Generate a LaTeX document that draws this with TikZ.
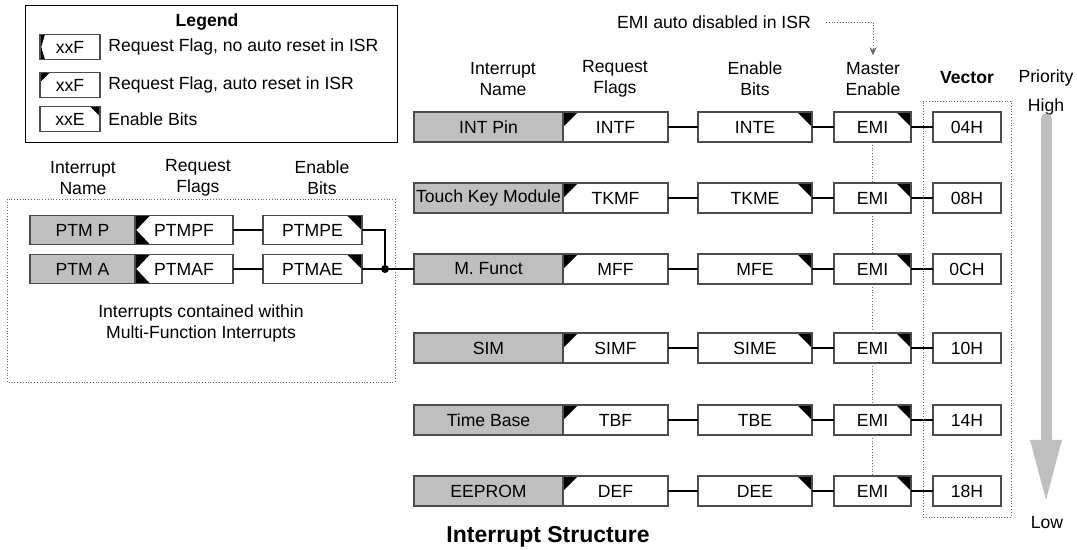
\documentclass[tikz,border=0pt]{standalone}
\usepackage{fontspec}
\setmainfont{Liberation Sans}
\usetikzlibrary{arrows.meta,positioning,fit}
\colorlet{EdgeGray}{black!70}
\colorlet{NameGray}{black!25}
\colorlet{DotGray}{black!60}
\def\csz{7.5pt}

\begin{document}
\begin{tikzpicture}[x=0.5pt,y=-0.5pt,
      every node/.style={font=\fontsize{8.8}{10.5}\selectfont},
      cornersz/.code={\def\csz{#1}},
      basebox/.style={draw=EdgeGray,line width=0.6pt,minimum height=15pt,
        inner xsep=0pt,outer sep=0pt},
      namebox/.style={basebox,fill=NameGray,minimum width=74.5pt},
      flagbox/.style={basebox,fill=white,minimum width=52.5pt,
        path picture={\fill[black] (path picture bounding box.north west) -- ++(\csz,0pt)
          -- ++(-\csz,-\csz) -- cycle;}},
      noautobox/.style={basebox,fill=white,minimum width=52.5pt,
        path picture={\fill[black] (path picture bounding box.north west) -- ++(\csz,0pt)
          -- ([xshift=0.6pt]path picture bounding box.west)
          -- ([xshift=\csz]path picture bounding box.south west)
          -- (path picture bounding box.south west) -- cycle;}},
      enbox/.style={basebox,fill=white,minimum width=57pt,
        path picture={\fill[black] (path picture bounding box.north east) -- ++(-\csz,0pt)
          -- ++(\csz,-\csz) -- cycle;}},
      emibox/.style={enbox,minimum width=38.5pt},
      vecbox/.style={basebox,fill=white,minimum width=34pt},
      head/.style={align=center},
      wire/.style={draw=black,line width=0.6pt},
      dot/.style={circle,fill=black,inner sep=0pt,minimum size=4pt}]
    \useasboundingbox (0,0) rectangle (1077,550);

    % Legend
    \draw[line width=0.5pt] (25,6) rectangle (397,143);
    \node[font=\bfseries\fontsize{8.8}{10.5}\selectfont] (lgtitle) at (207,22) {Legend};
    \node[noautobox,cornersz=2.5pt,minimum width=30pt,minimum height=11pt] (lgnoauto) at (70,47) {xxF};
    \node[flagbox,cornersz=5pt,minimum width=30pt,minimum height=11pt] (lgauto) at (70,85) {xxF};
    \node[enbox,cornersz=5pt,minimum width=30pt,minimum height=11pt] (lgen) at (70,119) {xxE};
    \node[right=4pt of lgnoauto,inner xsep=0pt] (lgnoautotxt) {Request Flag, no auto reset in ISR};
    \node[right=4pt of lgauto,inner xsep=0pt] (lgautotxt) {Request Flag, auto reset in ISR};
    \node[right=4pt of lgen,inner xsep=0pt] (lgentxt) {Enable Bits};

    % Multi-function sources
    \node[head] (lname) at (83,178) {Interrupt\\Name};
    \node[head] (lflag) at (198,178) {Request\\Flags};
    \node[head] (len) at (322,178) {Enable\\Bits};
    \draw[densely dotted,draw=DotGray] (7,199) rectangle (395,382);
    \node[namebox,minimum width=52.5pt,minimum height=14.5pt] (ptmp) at (82.5,230) {PTM P};
    \node[noautobox,minimum width=49pt,minimum height=14.5pt,right=0pt of ptmp] (ptmpf) {PTMPF};
    \node[enbox,minimum width=49.5pt,minimum height=14.5pt,right=15pt of ptmpf] (ptmpe) {PTMPE};
    \node[namebox,minimum width=52.5pt,minimum height=14.5pt] (ptma) at (82.5,269) {PTM A};
    \node[noautobox,minimum width=49pt,minimum height=14.5pt,right=0pt of ptma] (ptmaf) {PTMAF};
    \node[enbox,minimum width=49.5pt,minimum height=14.5pt,right=15pt of ptmaf] (ptmae) {PTMAE};
    \node[dot] (junc) at ([xshift=11.5pt]ptmae.east) {};
    \node[head] (mfnote) at (201,323) {Interrupts contained within\\Multi-Function Interrupts};
    \draw[wire] (ptmpf) -- (ptmpe);
    \draw[wire] (ptmaf) -- (ptmae);

    % Column headings
    \node (emitext) at (714,22) {EMI auto disabled in ISR};
    \node[head] (hname) at (503,79) {Interrupt\\Name};
    \node[head] (hflag) at (615,79) {Request\\Flags};
    \node[head] (hen) at (755,79) {Enable\\Bits};
    \node[head] (master) at (873,79) {Master\\Enable};
    \node[font=\bfseries\fontsize{8.8}{10.5}\selectfont] (vechead) at (967,78) {Vector};
    \node (prio) at (1046,78) {Priority};
    \node (high) at (1046,107) {High};
    \node (low) at (1047,523) {Low};
    \draw[densely dotted,draw=DotGray,-{Stealth[length=4pt,width=3.5pt]}]
      ([xshift=4pt]emitext.east) -| (master.north);

    % Interrupt sources
    \node[namebox] (intpin) at (488.5,127) {INT Pin};
    \node[flagbox,right=0pt of intpin] (intf) {INTF};
    \node[enbox,right=15pt of intf] (inte) {INTE};
    \node[emibox,right=11pt of inte] (emia) {EMI};
    \node[vecbox,right=11pt of emia] (v04) {04H};

    \node[namebox] (tkm) at (488.5,198) {Touch Key Module};
    \node[flagbox,right=0pt of tkm] (tkmf) {TKMF};
    \node[enbox,right=15pt of tkmf] (tkme) {TKME};
    \node[emibox,right=11pt of tkme] (emib) {EMI};
    \node[vecbox,right=11pt of emib] (v08) {08H};

    \node[namebox] (mfunct) at (488.5,269) {M. Funct};
    \node[flagbox,right=0pt of mfunct] (mff) {MFF};
    \node[enbox,right=15pt of mff] (mfe) {MFE};
    \node[emibox,right=11pt of mfe] (emic) {EMI};
    \node[vecbox,right=11pt of emic] (v0c) {0CH};

    \node[namebox] (sim) at (488.5,348) {SIM};
    \node[flagbox,right=0pt of sim] (simf) {SIMF};
    \node[enbox,right=15pt of simf] (sime) {SIME};
    \node[emibox,right=11pt of sime] (emid) {EMI};
    \node[vecbox,right=11pt of emid] (v10) {10H};

    \node[namebox] (tb) at (488.5,420) {Time Base};
    \node[flagbox,right=0pt of tb] (tbf) {TBF};
    \node[enbox,right=15pt of tbf] (tbe) {TBE};
    \node[emibox,right=11pt of tbe] (emie) {EMI};
    \node[vecbox,right=11pt of emie] (v14) {14H};

    \node[namebox] (eeprom) at (488.5,491) {EEPROM};
    \node[flagbox,right=0pt of eeprom] (def) {DEF};
    \node[enbox,right=15pt of def] (dee) {DEE};
    \node[emibox,right=11pt of dee] (emif) {EMI};
    \node[vecbox,right=11pt of emif] (v18) {18H};

    \draw[wire] (intf) -- (inte) -- (emia) -- (v04);
    \draw[wire] (tkmf) -- (tkme) -- (emib) -- (v08);
    \draw[wire] (mff) -- (mfe) -- (emic) -- (v0c);
    \draw[wire] (simf) -- (sime) -- (emid) -- (v10);
    \draw[wire] (tbf) -- (tbe) -- (emie) -- (v14);
    \draw[wire] (def) -- (dee) -- (emif) -- (v18);
    \draw[wire] (ptmpe.east) -| (junc);
    \draw[wire] (ptmae.east) -- (junc) -- (mfunct.west);

    % EMI chain and vector frame
    \foreach \a/\b in {emia/emib,emib/emic,emic/emid,emid/emie,emie/emif}
      \draw[densely dotted,draw=DotGray] (\a.south) -- (\b.north);
    \node[draw=DotGray,densely dotted,fit=(v04)(v18),inner xsep=5pt,inner ysep=5.5pt] (vecframe) {};

    % Priority arrow
    \coordinate (headbase) at (1046,440);
    \draw[NameGray,line width=5.5pt,line cap=round] (1046,119) -- (headbase);
    \fill[NameGray] ([xshift=-8pt]headbase) -- ([xshift=8pt]headbase) -- (1046,500) -- cycle;

    \node[font=\bfseries\fontsize{11.5}{13.5}\selectfont] (title) at (548,537) {Interrupt Structure};
  \end{tikzpicture}
\end{document}
